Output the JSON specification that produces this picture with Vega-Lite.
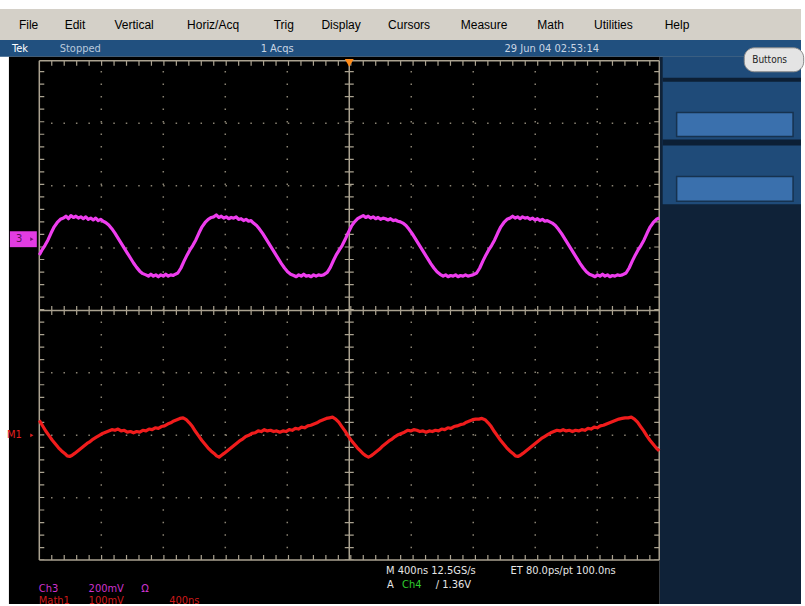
{
"$schema": "https://vega.github.io/schema/vega-lite/v6.json",
"width": 805, "height": 606,
"autosize": {"type": "fit", "contains": "padding"},
"padding": 0,
"background": "#ffffff",
"config": {"view": {"stroke": null}},
"datasets": {
"rects": [
{"x":-0.634,"x2":12.287,"y":4.830,"y2":4.335,"f":"#d4d0c8"},
{"x":-0.634,"x2":12.287,"y":4.335,"y2":4.064,"f":"#21507f"},
{"x":-0.490,"x2":10.008,"y":4.064,"y2":-4.703,"f":"#000000"},
{"x":10.008,"x2":12.287,"y":4.064,"y2":-4.703,"f":"#0f2238"},
{"x":10.056,"x2":12.287,"y":4.064,"y2":1.701,"f":"#1f4b79"},
{"x":10.056,"x2":12.287,"y":3.729,"y2":3.665,"f":"#0c1f35"},
{"x":10.056,"x2":12.287,"y":2.739,"y2":2.643,"f":"#0c1f35"},
{"x":-0.474,"x2":-0.040,"y":1.269,"y2":1.014,"f":"#e23ce2"}
],
"boxes": [
{"x":10.281,"x2":12.159,"y":3.170,"y2":2.786},
{"x":10.281,"x2":12.159,"y":2.148,"y2":1.748}
],
"btn": [{"x":11.372,"x2":12.33,"y":4.208,"y2":3.824}],
"dotsH": [
{"x":0,"x2":10,"y":-3,"y2":-3},{"x":0,"x2":10,"y":-2,"y2":-2},{"x":0,"x2":10,"y":-1,"y2":-1},
{"x":0,"x2":10,"y":1,"y2":1},{"x":0,"x2":10,"y":2,"y2":2},{"x":0,"x2":10,"y":3,"y2":3}
],
"dotsV": [
{"x":1,"x2":1,"y":-4,"y2":4},{"x":2,"x2":2,"y":-4,"y2":4},{"x":3,"x2":3,"y":-4,"y2":4},{"x":4,"x2":4,"y":-4,"y2":4},
{"x":6,"x2":6,"y":-4,"y2":4},{"x":7,"x2":7,"y":-4,"y2":4},{"x":8,"x2":8,"y":-4,"y2":4},{"x":9,"x2":9,"y":-4,"y2":4}
],
"grat": [
{"x":0,"x2":10,"y":4,"y2":4},{"x":0,"x2":10,"y":-4,"y2":-4},
{"x":0,"x2":0,"y":-4,"y2":4},{"x":10,"x2":10,"y":-4,"y2":4},
{"x":0,"x2":10,"y":0,"y2":0},{"x":5,"x2":5,"y":-4,"y2":4}
],
"tH5": [{"x":0,"x2":10,"y":3.96,"y2":3.96},{"x":0,"x2":10,"y":-3.96,"y2":-3.96}],
"tH9": [{"x":0,"x2":10,"y":0,"y2":0}],
"tV5": [{"x":0.04,"x2":0.04,"y":-4,"y2":4},{"x":9.96,"x2":9.96,"y":-4,"y2":4}],
"tV9": [{"x":5,"x2":5,"y":-4,"y2":4}],
"ch3": [
{"x":0.00,"y":0.89},{"x":0.05,"y":0.98},{"x":0.09,"y":1.04},{"x":0.14,"y":1.13},{"x":0.19,"y":1.24},{"x":0.24,"y":1.34},{"x":0.29,"y":1.41},{"x":0.34,"y":1.46},{"x":0.39,"y":1.48},{"x":0.43,"y":1.51},{"x":0.47,"y":1.47},{"x":0.51,"y":1.52},{"x":0.55,"y":1.49},{"x":0.59,"y":1.51},{"x":0.63,"y":1.48},{"x":0.67,"y":1.50},{"x":0.71,"y":1.47},{"x":0.75,"y":1.50},{"x":0.79,"y":1.46},{"x":0.83,"y":1.48},{"x":0.87,"y":1.45},{"x":0.91,"y":1.48},{"x":0.95,"y":1.44},{"x":0.99,"y":1.46},{"x":1.03,"y":1.43},{"x":1.07,"y":1.41},{"x":1.12,"y":1.37},{"x":1.17,"y":1.31},{"x":1.22,"y":1.24},{"x":1.27,"y":1.16},{"x":1.32,"y":1.08},{"x":1.37,"y":1.00},{"x":1.42,"y":0.92},{"x":1.47,"y":0.84},{"x":1.52,"y":0.76},{"x":1.57,"y":0.69},{"x":1.62,"y":0.63},{"x":1.67,"y":0.59},{"x":1.72,"y":0.57},{"x":1.76,"y":0.55},{"x":1.80,"y":0.58},{"x":1.84,"y":0.55},{"x":1.88,"y":0.57},{"x":1.92,"y":0.54},{"x":1.96,"y":0.57},{"x":2.00,"y":0.55},{"x":2.04,"y":0.58},{"x":2.08,"y":0.55},{"x":2.12,"y":0.57},{"x":2.16,"y":0.56},
{"x":2.175,"y":0.57},{"x":2.235,"y":0.60},{"x":2.285,"y":0.68},{"x":2.335,"y":0.79},{"x":2.385,"y":0.89},{"x":2.435,"y":0.98},{"x":2.475,"y":1.04},{"x":2.525,"y":1.13},{"x":2.575,"y":1.24},{"x":2.625,"y":1.34},{"x":2.675,"y":1.41},{"x":2.725,"y":1.46},{"x":2.775,"y":1.49},{"x":2.815,"y":1.50},{"x":2.855,"y":1.53},{"x":2.895,"y":1.49},{"x":2.935,"y":1.51},{"x":2.975,"y":1.48},{"x":3.015,"y":1.50},{"x":3.055,"y":1.47},{"x":3.095,"y":1.49},{"x":3.135,"y":1.48},{"x":3.175,"y":1.50},{"x":3.215,"y":1.46},{"x":3.255,"y":1.47},{"x":3.295,"y":1.44},{"x":3.335,"y":1.46},{"x":3.375,"y":1.43},{"x":3.415,"y":1.44},{"x":3.455,"y":1.40},{"x":3.505,"y":1.36},{"x":3.555,"y":1.30},{"x":3.605,"y":1.23},{"x":3.655,"y":1.15},{"x":3.705,"y":1.07},{"x":3.755,"y":0.99},{"x":3.805,"y":0.91},{"x":3.855,"y":0.83},{"x":3.905,"y":0.75},{"x":3.955,"y":0.68},{"x":4.005,"y":0.62},{"x":4.055,"y":0.58},{"x":4.105,"y":0.56},{"x":4.145,"y":0.54},{"x":4.185,"y":0.57},{"x":4.225,"y":0.55},{"x":4.265,"y":0.58},{"x":4.305,"y":0.55},{"x":4.345,"y":0.56},{"x":4.385,"y":0.54},{"x":4.425,"y":0.57},{"x":4.465,"y":0.55},{"x":4.505,"y":0.57},{"x":4.545,"y":0.56},
{"x":4.585,"y":0.57},{"x":4.645,"y":0.61},{"x":4.695,"y":0.69},{"x":4.745,"y":0.80},{"x":4.795,"y":0.90},{"x":4.845,"y":0.98},{"x":4.885,"y":1.04},{"x":4.935,"y":1.14},{"x":4.985,"y":1.25},{"x":5.035,"y":1.35},{"x":5.085,"y":1.42},{"x":5.135,"y":1.47},{"x":5.185,"y":1.50},{"x":5.225,"y":1.52},{"x":5.265,"y":1.49},{"x":5.305,"y":1.51},{"x":5.345,"y":1.48},{"x":5.385,"y":1.50},{"x":5.425,"y":1.47},{"x":5.465,"y":1.49},{"x":5.505,"y":1.46},{"x":5.545,"y":1.48},{"x":5.585,"y":1.47},{"x":5.625,"y":1.45},{"x":5.665,"y":1.47},{"x":5.705,"y":1.44},{"x":5.745,"y":1.45},{"x":5.785,"y":1.43},{"x":5.825,"y":1.42},{"x":5.865,"y":1.40},{"x":5.915,"y":1.36},{"x":5.965,"y":1.30},{"x":6.015,"y":1.23},{"x":6.065,"y":1.15},{"x":6.115,"y":1.07},{"x":6.165,"y":0.99},{"x":6.215,"y":0.91},{"x":6.265,"y":0.83},{"x":6.315,"y":0.75},{"x":6.365,"y":0.68},{"x":6.415,"y":0.62},{"x":6.465,"y":0.58},{"x":6.515,"y":0.55},{"x":6.555,"y":0.57},{"x":6.595,"y":0.54},{"x":6.635,"y":0.56},{"x":6.675,"y":0.55},{"x":6.715,"y":0.57},{"x":6.755,"y":0.54},{"x":6.795,"y":0.56},{"x":6.835,"y":0.55},{"x":6.875,"y":0.57},{"x":6.915,"y":0.55},{"x":6.955,"y":0.56},
{"x":6.995,"y":0.57},{"x":7.055,"y":0.60},{"x":7.105,"y":0.68},{"x":7.155,"y":0.79},{"x":7.205,"y":0.89},{"x":7.255,"y":0.98},{"x":7.295,"y":1.04},{"x":7.345,"y":1.13},{"x":7.395,"y":1.24},{"x":7.445,"y":1.34},{"x":7.495,"y":1.41},{"x":7.545,"y":1.46},{"x":7.595,"y":1.48},{"x":7.635,"y":1.51},{"x":7.675,"y":1.48},{"x":7.715,"y":1.50},{"x":7.755,"y":1.47},{"x":7.795,"y":1.50},{"x":7.835,"y":1.48},{"x":7.875,"y":1.49},{"x":7.915,"y":1.46},{"x":7.955,"y":1.48},{"x":7.995,"y":1.45},{"x":8.035,"y":1.47},{"x":8.075,"y":1.44},{"x":8.115,"y":1.46},{"x":8.155,"y":1.43},{"x":8.195,"y":1.44},{"x":8.235,"y":1.42},{"x":8.275,"y":1.40},{"x":8.325,"y":1.36},{"x":8.375,"y":1.30},{"x":8.425,"y":1.23},{"x":8.475,"y":1.15},{"x":8.525,"y":1.07},{"x":8.575,"y":0.99},{"x":8.625,"y":0.91},{"x":8.675,"y":0.83},{"x":8.725,"y":0.75},{"x":8.775,"y":0.68},{"x":8.825,"y":0.62},{"x":8.875,"y":0.58},{"x":8.925,"y":0.56},{"x":8.965,"y":0.54},{"x":9.005,"y":0.57},{"x":9.045,"y":0.55},{"x":9.085,"y":0.58},{"x":9.125,"y":0.55},{"x":9.165,"y":0.57},{"x":9.205,"y":0.54},{"x":9.245,"y":0.56},{"x":9.285,"y":0.55},{"x":9.325,"y":0.57},{"x":9.365,"y":0.56},
{"x":9.405,"y":0.57},{"x":9.465,"y":0.60},{"x":9.515,"y":0.68},{"x":9.565,"y":0.79},{"x":9.615,"y":0.89},{"x":9.665,"y":0.98},{"x":9.705,"y":1.04},{"x":9.755,"y":1.13},{"x":9.805,"y":1.24},{"x":9.855,"y":1.34},{"x":9.905,"y":1.41},{"x":9.955,"y":1.46},{"x":10.0,"y":1.48}
],
"math1": [
{"x":0.00,"y":-1.76},{"x":0.06,"y":-1.86},{"x":0.11,"y":-1.94},{"x":0.16,"y":-2.01},{"x":0.21,"y":-2.08},{"x":0.26,"y":-2.14},{"x":0.31,"y":-2.20},{"x":0.36,"y":-2.25},{"x":0.41,"y":-2.29},{"x":0.45,"y":-2.33},{"x":0.49,"y":-2.34},{"x":0.53,"y":-2.32},{"x":0.57,"y":-2.29},{"x":0.62,"y":-2.25},{"x":0.67,"y":-2.21},{"x":0.72,"y":-2.17},{"x":0.77,"y":-2.13},{"x":0.82,"y":-2.10},{"x":0.87,"y":-2.06},{"x":0.92,"y":-2.03},{"x":0.97,"y":-2.00},{"x":1.02,"y":-1.97},{"x":1.07,"y":-1.95},{"x":1.12,"y":-1.93},{"x":1.17,"y":-1.91},{"x":1.22,"y":-1.92},{"x":1.27,"y":-1.90},{"x":1.32,"y":-1.93},{"x":1.37,"y":-1.92},{"x":1.42,"y":-1.95},{"x":1.47,"y":-1.94},{"x":1.52,"y":-1.96},{"x":1.57,"y":-1.94},{"x":1.62,"y":-1.95},{"x":1.67,"y":-1.92},{"x":1.72,"y":-1.93},{"x":1.77,"y":-1.90},{"x":1.82,"y":-1.91},{"x":1.87,"y":-1.88},{"x":1.92,"y":-1.89},{"x":1.97,"y":-1.86},{"x":2.02,"y":-1.85},{"x":2.07,"y":-1.82},{"x":2.12,"y":-1.80},{"x":2.17,"y":-1.77},{"x":2.22,"y":-1.75},{"x":2.27,"y":-1.73},{"x":2.32,"y":-1.72},
{"x":2.37,"y":-1.75},{"x":2.42,"y":-1.80},{"x":2.47,"y":-1.86},{"x":2.52,"y":-1.94},{"x":2.57,"y":-2.01},{"x":2.62,"y":-2.08},{"x":2.67,"y":-2.14},{"x":2.72,"y":-2.20},{"x":2.77,"y":-2.25},{"x":2.82,"y":-2.29},{"x":2.86,"y":-2.33},{"x":2.90,"y":-2.35},{"x":2.94,"y":-2.32},{"x":2.98,"y":-2.29},{"x":3.03,"y":-2.25},{"x":3.08,"y":-2.21},{"x":3.13,"y":-2.17},{"x":3.18,"y":-2.13},{"x":3.23,"y":-2.09},{"x":3.28,"y":-2.06},{"x":3.33,"y":-2.02},{"x":3.38,"y":-2.00},{"x":3.43,"y":-1.97},{"x":3.48,"y":-1.96},{"x":3.53,"y":-1.93},{"x":3.58,"y":-1.94},{"x":3.63,"y":-1.91},{"x":3.68,"y":-1.93},{"x":3.73,"y":-1.92},{"x":3.78,"y":-1.94},{"x":3.83,"y":-1.93},{"x":3.88,"y":-1.95},{"x":3.93,"y":-1.93},{"x":3.98,"y":-1.94},{"x":4.03,"y":-1.91},{"x":4.08,"y":-1.92},{"x":4.13,"y":-1.89},{"x":4.18,"y":-1.90},{"x":4.23,"y":-1.87},{"x":4.28,"y":-1.88},{"x":4.33,"y":-1.85},{"x":4.38,"y":-1.84},{"x":4.43,"y":-1.82},{"x":4.48,"y":-1.80},{"x":4.53,"y":-1.77},{"x":4.58,"y":-1.75},{"x":4.63,"y":-1.73},{"x":4.68,"y":-1.72},{"x":4.73,"y":-1.71},
{"x":4.78,"y":-1.74},{"x":4.83,"y":-1.79},{"x":4.88,"y":-1.86},{"x":4.93,"y":-1.93},{"x":4.98,"y":-2.01},{"x":5.03,"y":-2.08},{"x":5.08,"y":-2.14},{"x":5.13,"y":-2.20},{"x":5.18,"y":-2.25},{"x":5.23,"y":-2.30},{"x":5.27,"y":-2.33},{"x":5.31,"y":-2.35},{"x":5.35,"y":-2.33},{"x":5.39,"y":-2.30},{"x":5.44,"y":-2.26},{"x":5.49,"y":-2.22},{"x":5.54,"y":-2.17},{"x":5.59,"y":-2.13},{"x":5.64,"y":-2.09},{"x":5.69,"y":-2.06},{"x":5.74,"y":-2.02},{"x":5.79,"y":-1.99},{"x":5.84,"y":-1.97},{"x":5.89,"y":-1.95},{"x":5.94,"y":-1.92},{"x":5.99,"y":-1.93},{"x":6.04,"y":-1.91},{"x":6.09,"y":-1.92},{"x":6.14,"y":-1.94},{"x":6.19,"y":-1.93},{"x":6.24,"y":-1.95},{"x":6.29,"y":-1.93},{"x":6.34,"y":-1.94},{"x":6.39,"y":-1.92},{"x":6.44,"y":-1.93},{"x":6.49,"y":-1.90},{"x":6.54,"y":-1.91},{"x":6.59,"y":-1.88},{"x":6.64,"y":-1.89},{"x":6.69,"y":-1.86},{"x":6.74,"y":-1.85},{"x":6.79,"y":-1.83},{"x":6.84,"y":-1.82},{"x":6.89,"y":-1.79},{"x":6.94,"y":-1.77},{"x":6.99,"y":-1.75},{"x":7.04,"y":-1.74},{"x":7.09,"y":-1.74},{"x":7.14,"y":-1.73},
{"x":7.19,"y":-1.75},{"x":7.24,"y":-1.80},{"x":7.29,"y":-1.86},{"x":7.34,"y":-1.94},{"x":7.39,"y":-2.01},{"x":7.44,"y":-2.08},{"x":7.49,"y":-2.14},{"x":7.54,"y":-2.20},{"x":7.59,"y":-2.25},{"x":7.64,"y":-2.29},{"x":7.68,"y":-2.33},{"x":7.72,"y":-2.34},{"x":7.76,"y":-2.32},{"x":7.80,"y":-2.29},{"x":7.85,"y":-2.25},{"x":7.90,"y":-2.21},{"x":7.95,"y":-2.17},{"x":8.00,"y":-2.13},{"x":8.05,"y":-2.09},{"x":8.10,"y":-2.05},{"x":8.15,"y":-2.02},{"x":8.20,"y":-1.99},{"x":8.25,"y":-1.96},{"x":8.30,"y":-1.94},{"x":8.35,"y":-1.92},{"x":8.40,"y":-1.93},{"x":8.45,"y":-1.91},{"x":8.50,"y":-1.93},{"x":8.55,"y":-1.92},{"x":8.60,"y":-1.94},{"x":8.65,"y":-1.92},{"x":8.70,"y":-1.93},{"x":8.75,"y":-1.91},{"x":8.80,"y":-1.92},{"x":8.85,"y":-1.89},{"x":8.90,"y":-1.90},{"x":8.95,"y":-1.87},{"x":9.00,"y":-1.88},{"x":9.05,"y":-1.85},{"x":9.10,"y":-1.84},{"x":9.15,"y":-1.82},{"x":9.20,"y":-1.80},{"x":9.25,"y":-1.78},{"x":9.30,"y":-1.76},{"x":9.35,"y":-1.74},{"x":9.40,"y":-1.73},{"x":9.45,"y":-1.72},{"x":9.50,"y":-1.72},{"x":9.55,"y":-1.71},
{"x":9.60,"y":-1.74},{"x":9.65,"y":-1.79},{"x":9.70,"y":-1.86},{"x":9.75,"y":-1.93},{"x":9.80,"y":-2.01},{"x":9.85,"y":-2.08},{"x":9.90,"y":-2.14},{"x":9.95,"y":-2.20},{"x":10.00,"y":-2.25}
],
"pts": [
{"x":5.0,"y":3.968,"c":"#ff8c1a","sh":"triangle-down","sz":80},
{"x":-0.12,"y":1.142,"c":"#6a106a","sh":"triangle-right","sz":14},
{"x":-0.12,"y":-2.0,"c":"#e02020","sh":"triangle-right","sz":14}
],
"menu": [
{"x":-0.329,"y":4.575,"t":"File"},{"x":0.409,"y":4.575,"t":"Edit"},{"x":1.212,"y":4.575,"t":"Vertical"},{"x":2.384,"y":4.575,"t":"Horiz/Acq"},{"x":3.780,"y":4.575,"t":"Trig"},{"x":4.551,"y":4.575,"t":"Display"},{"x":5.626,"y":4.575,"t":"Cursors"},{"x":6.798,"y":4.575,"t":"Measure"},{"x":8.034,"y":4.575,"t":"Math"},{"x":8.949,"y":4.575,"t":"Utilities"},{"x":10.088,"y":4.575,"t":"Help"}
],
"labels": [
{"x":-0.441,"y":4.192,"t":"Tek","c":"#ffffff","sz":11},
{"x":0.329,"y":4.192,"t":"Stopped","c":"#b9c9dc","sz":11},
{"x":3.571,"y":4.192,"t":"1 Acqs","c":"#c9d5e3","sz":11},
{"x":7.504,"y":4.192,"t":"29 Jun 04 02:53:14","c":"#c9d5e3","sz":11},
{"x":11.50,"y":4.016,"t":"Buttons","c":"#222222","sz":10},
{"x":5.594,"y":-4.176,"t":"M 400ns 12.5GS/s","c":"#e6e6e6","sz":11},
{"x":7.600,"y":-4.176,"t":"ET 80.0ps/pt 100.0ns","c":"#e6e6e6","sz":11},
{"x":5.610,"y":-4.399,"t":"A","c":"#e6e6e6","sz":11},
{"x":5.851,"y":-4.399,"t":"Ch4","c":"#2fcc2f","sz":11},
{"x":6.396,"y":-4.399,"t":"/ 1.36V","c":"#e6e6e6","sz":11},
{"x":-0.008,"y":-4.463,"t":"Ch3","c":"#cc33cc","sz":11},
{"x":0.795,"y":-4.463,"t":"200mV","c":"#cc33cc","sz":11},
{"x":1.645,"y":-4.463,"t":"Ω","c":"#cc33cc","sz":11},
{"x":-0.008,"y":-4.655,"t":"Math1","c":"#cc1a1a","sz":11},
{"x":0.795,"y":-4.655,"t":"100mV","c":"#cc1a1a","sz":11},
{"x":2.095,"y":-4.655,"t":"400ns","c":"#cc1a1a","sz":11},
{"x":-0.377,"y":1.142,"t":"3","c":"#5a105a","sz":11},
{"x":-0.522,"y":-2.0,"t":"M1","c":"#e02020","sz":11}
]
},
"encoding": {
"x": {"field":"x","type":"quantitative","scale":{"domain":[-0.634,12.287],"nice":false,"zero":false},"axis":null},
"y": {"field":"y","type":"quantitative","scale":{"domain":[-4.703,4.974],"nice":false,"zero":false},"axis":null}
},
"layer": [
{"data":{"name":"rects"},"mark":{"type":"rect"},"encoding":{"x2":{"field":"x2"},"y2":{"field":"y2"},"fill":{"field":"f","type":"nominal","scale":null}}},
{"data":{"name":"boxes"},"mark":{"type":"rect","fill":"#3a70ad","stroke":"#16324f","strokeWidth":1.5},"encoding":{"x2":{"field":"x2"},"y2":{"field":"y2"}}},
{"data":{"name":"btn"},"mark":{"type":"rect","fill":"#e4e4e4","stroke":"#8a8a8a","strokeWidth":1,"cornerRadius":10},"encoding":{"x2":{"field":"x2"},"y2":{"field":"y2"}}},
{"data":{"name":"dotsH"},"mark":{"type":"rule","color":"#8a8373","strokeWidth":1.5,"strokeDash":[1.5,10.96],"strokeDashOffset":0.75},"encoding":{"x2":{"field":"x2"},"y2":{"field":"y2"}}},
{"data":{"name":"dotsV"},"mark":{"type":"rule","color":"#8a8373","strokeWidth":1.5,"strokeDash":[1.5,11.025],"strokeDashOffset":0.75},"encoding":{"x2":{"field":"x2"},"y2":{"field":"y2"}}},
{"data":{"name":"grat"},"mark":{"type":"rule","color":"#aaa290","strokeWidth":1.5},"encoding":{"x2":{"field":"x2"},"y2":{"field":"y2"}}},
{"data":{"name":"tH5"},"mark":{"type":"rule","color":"#aaa290","strokeWidth":5,"strokeDash":[1.2,11.26],"strokeDashOffset":0.6},"encoding":{"x2":{"field":"x2"},"y2":{"field":"y2"}}},
{"data":{"name":"tH9"},"mark":{"type":"rule","color":"#aaa290","strokeWidth":9,"strokeDash":[1.2,11.26],"strokeDashOffset":0.6},"encoding":{"x2":{"field":"x2"},"y2":{"field":"y2"}}},
{"data":{"name":"tV5"},"mark":{"type":"rule","color":"#aaa290","strokeWidth":5,"strokeDash":[1.2,11.325],"strokeDashOffset":0.6},"encoding":{"x2":{"field":"x2"},"y2":{"field":"y2"}}},
{"data":{"name":"tV9"},"mark":{"type":"rule","color":"#aaa290","strokeWidth":9,"strokeDash":[1.2,11.325],"strokeDashOffset":0.6},"encoding":{"x2":{"field":"x2"},"y2":{"field":"y2"}}},
{"data":{"name":"ch3"},"mark":{"type":"line","color":"#ee3dee","strokeWidth":3.2,"strokeJoin":"round"}},
{"data":{"name":"math1"},"mark":{"type":"line","color":"#f01c1c","strokeWidth":3.2,"strokeJoin":"round"}},
{"data":{"name":"pts"},"mark":{"type":"point","filled":true,"opacity":1,"strokeWidth":0},"encoding":{"shape":{"field":"sh","type":"nominal","scale":null},"color":{"field":"c","type":"nominal","scale":null},"size":{"field":"sz","type":"quantitative","scale":null}}},
{"data":{"name":"menu"},"mark":{"type":"text","align":"left","baseline":"middle","font":"Liberation Sans","fontSize":12,"color":"#000000"},"encoding":{"text":{"field":"t"}}},
{"data":{"name":"labels"},"mark":{"type":"text","align":"left","baseline":"middle","font":"'Liberation Sans Narrow', 'DejaVu Sans Condensed', sans-serif"},"encoding":{"text":{"field":"t"},"color":{"field":"c","type":"nominal","scale":null},"size":{"field":"sz","type":"quantitative","scale":null}}}
]
}
